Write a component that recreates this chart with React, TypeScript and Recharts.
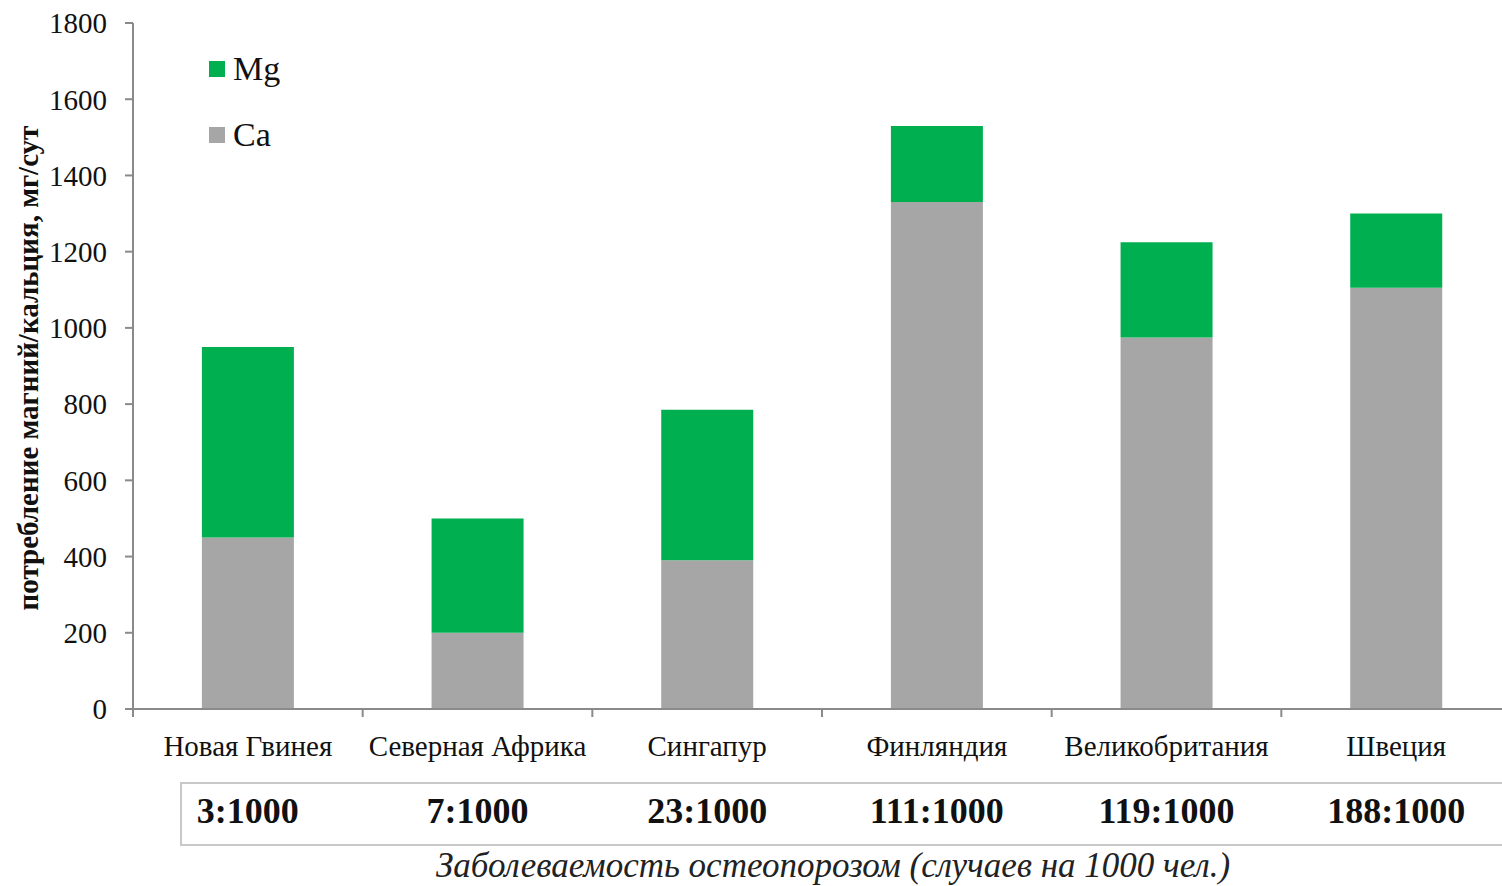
import { BarChart, Bar, XAxis, YAxis, Legend } from "recharts";

// countries and osteoporosis incidence (cases per 1000 people)
const countries = [
  "Новая Гвинея",
  "Северная Африка",
  "Сингапур",
  "Финляндия",
  "Великобритания",
  "Швеция",
];
const incidence = ["3:1000", "7:1000", "23:1000", "111:1000", "119:1000", "188:1000"];

// daily intake, mg/day
const caIntake = [450, 200, 390, 1330, 975, 1105];
const mgIntake = [500, 300, 395, 200, 250, 195];

const yTicks = [0, 200, 400, 600, 800, 1000, 1200, 1400, 1600, 1800];

const data = countries.map((country, i) => ({
  country,
  Ca: caIntake[i],
  Mg: mgIntake[i],
}));

const CHART_W = 1512;
const CHART_H = 886;
const MARGIN = { top: 23, right: 1, left: 0, bottom: 0 };
const Y_AXIS_W = 133;
const X_AXIS_H = 177;
const STEP = (CHART_W - MARGIN.left - MARGIN.right - Y_AXIS_W) / countries.length;

const MG_COLOR = "#00B050";
const CA_COLOR = "#A6A6A6";
const AXIS_COLOR = "#8A8A8A";
const FONT = "'Liberation Serif', 'Times New Roman', serif";

function CountryTick(props: any) {
  const { x, y, payload } = props;
  const i = payload.index;
  const half = STEP / 2;
  const axisY = y - 8;
  return (
    <g>
      <line x1={x - half} x2={x - half} y1={axisY} y2={axisY + 8} stroke={AXIS_COLOR} strokeWidth={2} />
      {i === countries.length - 1 && (
        <line x1={x + half} x2={x + half} y1={axisY} y2={axisY + 8} stroke={AXIS_COLOR} strokeWidth={2} />
      )}
      <text x={x} y={axisY + 47} textAnchor="middle" fill="#111" fontSize={29} fontFamily={FONT}>
        {payload.value}
      </text>
      <text
        x={x}
        y={axisY + 114}
        textAnchor="middle"
        fill="#111"
        fontSize={36}
        fontWeight="bold"
        fontFamily={FONT}
      >
        {incidence[i]}
      </text>
    </g>
  );
}

function YTitle(props: any) {
  const { viewBox } = props;
  const cy = viewBox.y + viewBox.height / 2 + 2;
  return (
    <text
      x={28}
      y={cy}
      transform={`rotate(-90, 28, ${cy})`}
      textAnchor="middle"
      dominantBaseline="central"
      fill="#111"
      fontSize={29}
      fontWeight="bold"
      fontFamily={FONT}
    >
      потребление магний/кальция, мг/сут
    </text>
  );
}

function LegendContent(props: any) {
  const items = [...(props.payload || [])].reverse();
  return (
    <div style={{ fontFamily: FONT }}>
      {items.map((it: any) => (
        <div key={it.value} style={{ display: "flex", alignItems: "center", height: 66 }}>
          <span style={{ width: 16, height: 16, background: it.color, marginRight: 8 }} />
          <span style={{ fontSize: 34, color: "#111" }}>{it.value}</span>
        </div>
      ))}
    </div>
  );
}

export default function App() {
  return (
    <div
      style={{
        position: "absolute",
        left: 0,
        top: 0,
        width: 1502,
        height: 886,
        overflow: "hidden",
        background: "#fff",
      }}
    >
      {/* incidence row frame */}
      <div
        style={{
          position: "absolute",
          left: 180,
          top: 782,
          width: 1400,
          height: 60,
          border: "2px solid #C8C8C8",
          borderRight: "none",
        }}
      />
      <BarChart width={CHART_W} height={CHART_H} data={data} margin={MARGIN} barCategoryGap="30%">
        <XAxis
          dataKey="country"
          height={X_AXIS_H}
          interval={0}
          tickLine={false}
          tickSize={8}
          tickMargin={0}
          axisLine={{ stroke: AXIS_COLOR, strokeWidth: 2 }}
          tick={<CountryTick />}
          label={{
            value: "Заболеваемость остеопорозом (случаев на 1000 чел.)",
            position: "insideBottom",
            offset: 9,
            fill: "#222",
            fontSize: 35,
            fontStyle: "italic",
            fontFamily: FONT,
            dx: 11,
          }}
        />
        <YAxis
          width={Y_AXIS_W}
          domain={[0, 1800]}
          ticks={yTicks}
          interval={0}
          tickSize={8}
          tickMargin={18}
          axisLine={{ stroke: AXIS_COLOR, strokeWidth: 2 }}
          tickLine={{ stroke: AXIS_COLOR, strokeWidth: 2 }}
          tick={{ fill: "#111", fontSize: 29, fontFamily: FONT }}
          label={<YTitle />}
        />
        <Legend
          layout="vertical"
          align="center"
          verticalAlign="middle"
          wrapperStyle={{ left: 209, top: 36, width: 120 }}
          content={<LegendContent />}
        />
        <Bar dataKey="Ca" stackId="a" fill={CA_COLOR} isAnimationActive={false} />
        <Bar dataKey="Mg" stackId="a" fill={MG_COLOR} isAnimationActive={false} />
      </BarChart>
    </div>
  );
}
